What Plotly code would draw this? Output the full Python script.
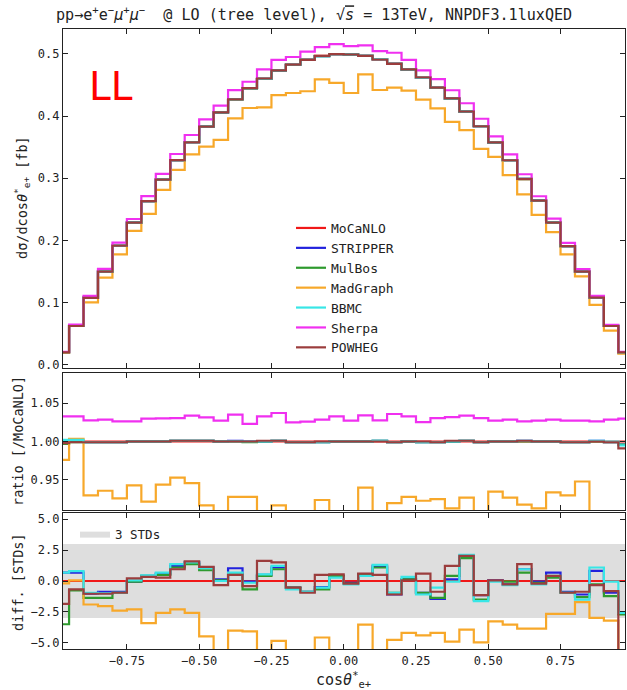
import numpy as np
import plotly.graph_objects as go

# ---------------- data ----------------
BIN_EDGES = np.round(np.arange(-1.0, 1.0001, 0.05), 3)

GENERATORS = ["MoCaNLO", "STRIPPER", "MulBos", "MadGraph", "BBMC", "Sherpa", "POWHEG"]
COLORS = {
    "MoCaNLO": "#f01818",
    "STRIPPER": "#2222dd",
    "MulBos": "#2e9a2e",
    "MadGraph": "#f7a82a",
    "BBMC": "#38e6e6",
    "Sherpa": "#f030f0",
    "POWHEG": "#9b3d3d",
}

# dsigma/dcos (MoCaNLO reference), fb
MOCANLO = [0.0203, 0.0626, 0.108, 0.150, 0.1917, 0.2286, 0.2634, 0.298, 0.329, 0.3576,
           0.3828, 0.406, 0.427, 0.445, 0.460, 0.473, 0.483, 0.491, 0.4968, 0.4995,
           0.499, 0.4968, 0.491, 0.4845, 0.475, 0.462, 0.446, 0.428, 0.407, 0.384,
           0.3576, 0.329, 0.2987, 0.264, 0.2286, 0.191, 0.150, 0.108, 0.0626, 0.0203]

# ratios to MoCaNLO
RATIO_MOCANLO = [1.0] * 40
RATIO_STRIPPER = [1.001, 1.001, 0.999, 0.999, 0.999, 1.000, 1.000, 1.000, 1.001, 1.001,
                  1.001, 1.000, 1.001, 1.000, 1.000, 1.001, 0.999, 0.999, 0.999, 1.000,
                  1.000, 1.000, 1.001, 0.999, 1.000, 0.999, 0.999, 1.000, 1.001, 0.999,
                  1.000, 1.000, 1.001, 1.000, 1.000, 0.999, 0.999, 1.001, 0.999, 0.996]
RATIO_MULBOS = [0.997, 0.999, 0.999, 0.999, 0.999, 1.000, 1.000, 1.000, 1.001, 1.001,
                1.001, 1.000, 1.000, 0.999, 1.000, 1.001, 0.999, 0.999, 0.999, 1.000,
                1.000, 1.000, 1.001, 0.999, 1.000, 0.999, 0.999, 1.000, 1.001, 0.999,
                1.000, 1.000, 1.000, 1.000, 1.000, 0.999, 0.999, 1.000, 0.999, 0.996]
RATIO_MADGRAPH = [0.976, 1.0035, 0.930, 0.936, 0.926, 0.943, 0.922, 0.944, 0.953, 0.946,
                  0.917, 0.891, 0.928, 0.928, 0.900, 0.917, 0.905, 0.896, 0.924, 0.908,
                  0.876, 0.940, 0.900, 0.920, 0.928, 0.923, 0.925, 0.913, 0.927, 0.904,
                  0.935, 0.927, 0.918, 0.913, 0.934, 0.930, 0.948, 0.893, 0.880, 0.900]
RATIO_BBMC = [1.002, 1.002, 0.999, 0.999, 0.999, 1.000, 1.000, 1.000, 1.001, 1.001,
              1.001, 1.000, 1.000, 1.000, 1.000, 1.001, 0.999, 0.999, 0.999, 1.000,
              1.000, 1.000, 1.001, 0.999, 1.000, 0.999, 0.999, 1.000, 1.001, 0.999,
              1.000, 1.000, 1.001, 1.000, 1.000, 0.999, 0.999, 1.001, 1.000, 0.995]
RATIO_SHERPA = [1.0326, 1.0326, 1.0274, 1.0283, 1.0261, 1.0261, 1.0296, 1.0300, 1.0304, 1.0335,
                1.0313, 1.0270, 1.0348, 1.0230, 1.0326, 1.0370, 1.0248, 1.0257, 1.0283, 1.0326,
                1.0270, 1.0339, 1.0274, 1.0357, 1.0326, 1.0252, 1.0304, 1.0317, 1.0335, 1.0304,
                1.0270, 1.0283, 1.0261, 1.0270, 1.0283, 1.0270, 1.0270, 1.0261, 1.0283, 1.0296]
RATIO_POWHEG = [0.998, 0.999, 0.999, 0.999, 0.999, 1.000, 1.000, 1.000, 1.001, 1.001,
                1.001, 1.000, 1.000, 1.000, 1.001, 1.001, 0.999, 0.999, 1.000, 1.000,
                1.000, 1.000, 1.000, 0.999, 1.000, 1.000, 0.999, 1.001, 1.001, 0.999,
                1.000, 1.000, 1.001, 1.000, 1.000, 0.999, 0.999, 1.000, 0.999, 0.991]

# differences in standard deviations
DIFF_MOCANLO = [0.0] * 40
DIFF_STRIPPER = [0.68, 0.68, -1.03, -0.87, -0.87, -0.05, 0.41, 0.60, 1.22, 1.50,
                 1.09, 0.14, 1.03, -0.05, 0.49, 1.09, -0.54, -0.87, -0.49, 0.41,
                 -0.14, 0.54, 1.22, -1.09, 0.14, -0.95, -1.44, 0.14, 1.96, -1.14,
                 0.05, -0.27, 0.95, -0.05, 0.68, -0.87, -1.09, 0.82, -0.95, -2.58]
DIFF_MULBOS = [-3.50, -0.76, -1.36, -1.36, -0.95, -0.05, 0.41, 0.49, 1.09, 1.36,
               0.87, 0.05, 0.54, -0.68, 0.41, 0.95, -0.54, -0.87, -0.68, 0.41,
               -0.22, 0.54, 1.09, -0.95, 0.14, -0.95, -1.36, 0.41, 1.85, -1.50,
               0.00, -0.05, 0.68, -0.14, 0.27, -0.95, -1.30, -0.27, -1.22, -2.70]
DIFF_MADGRAPH = [-0.20, 0.05, -1.90, -2.04, -2.40, -2.30, -3.40, -2.58, -2.30, -2.58,
                 -4.48, -7.00, -4.02, -4.08, -7.00, -4.84, -7.00, -7.00, -4.57, -7.00,
                 -7.00, -3.53, -7.00, -4.76, -4.20, -4.40, -4.20, -4.90, -3.94, -4.97,
                 -3.26, -3.53, -3.86, -3.86, -2.66, -2.66, -1.71, -2.99, -3.20, -6.00]
DIFF_BBMC = [0.68, 0.80, -0.95, -1.00, -0.95, 0.05, 0.46, 0.68, 1.36, 1.50,
             1.03, 0.00, 0.68, -0.14, 0.54, 1.22, -0.68, -0.87, -0.54, 0.27,
             -0.27, 0.41, 1.30, -0.95, 0.33, -1.09, -0.54, -0.05, 2.12, -1.63,
             -0.05, -0.33, 0.95, -0.27, 0.41, -0.95, -1.50, 1.09, -0.05, -2.58]
DIFF_POWHEG = [-1.85, -0.68, -1.03, -1.03, -0.95, 0.22, 0.33, 0.27, 0.95, 1.58,
               1.14, -0.33, 0.49, -0.41, 1.63, 1.50, -0.54, -0.95, 0.49, 0.54,
               -0.22, 0.60, 0.49, -1.09, 0.05, 0.60, -0.87, 1.22, 2.04, -1.14,
               0.05, -0.27, 1.36, -0.22, 0.41, -0.95, -0.87, -0.33, -0.82, -7.00]

RATIOS = {"MoCaNLO": RATIO_MOCANLO, "STRIPPER": RATIO_STRIPPER, "MulBos": RATIO_MULBOS,
          "MadGraph": RATIO_MADGRAPH, "BBMC": RATIO_BBMC, "Sherpa": RATIO_SHERPA,
          "POWHEG": RATIO_POWHEG}
DIFFS = {"MoCaNLO": DIFF_MOCANLO, "STRIPPER": DIFF_STRIPPER, "MulBos": DIFF_MULBOS,
         "MadGraph": DIFF_MADGRAPH, "BBMC": DIFF_BBMC, "POWHEG": DIFF_POWHEG}

STD_BAND = 3.0
X_TICKS = [-0.75, -0.5, -0.25, 0.0, 0.25, 0.5, 0.75]

# ---------------- figure ----------------
W, H = 627, 690
ML, MR, MT, MB = 63, 2, 29, 41
PW, PH = W - ML - MR, H - MT - MB

def py(pix):  # pixel y (from top) -> paper y
    return (H - MB - pix) / PH

def px(pix):
    return (pix - ML) / PW

MONO = "DejaVu Sans Mono"
TXT = "#222222"

def step(vals):
    x = list(BIN_EDGES)
    y = list(vals) + [vals[-1]]
    return x, y

fig = go.Figure()

# band in diff panel
fig.add_trace(go.Scatter(
    x=[-1.2, 1.2, 1.2, -1.2, -1.2], y=[-STD_BAND, -STD_BAND, STD_BAND, STD_BAND, -STD_BAND],
    fill="toself", fillcolor="#dedede", line=dict(width=0, color="#dedede"),
    mode="lines", name="3 STDs", legend="legend2", showlegend=True,
    xaxis="x3", yaxis="y3", hoverinfo="skip"))

mc = np.array(MOCANLO)
for g in GENERATORS:
    vals = (mc * np.array(RATIOS[g])).tolist()
    x, y = step(vals)
    fig.add_trace(go.Scatter(x=x, y=y, mode="lines", line_shape="hv", name=g,
                             line=dict(color=COLORS[g], width=2.2),
                             xaxis="x", yaxis="y", legend="legend"))
for g in GENERATORS:
    x, y = step(RATIOS[g])
    fig.add_trace(go.Scatter(x=x, y=y, mode="lines", line_shape="hv", name=g,
                             line=dict(color=COLORS[g], width=2.2), showlegend=False,
                             xaxis="x2", yaxis="y2"))
for g in GENERATORS:
    if g not in DIFFS:
        continue
    x, y = step(DIFFS[g])
    fig.add_trace(go.Scatter(x=x, y=y, mode="lines", line_shape="hv", name=g,
                             line=dict(color=COLORS[g], width=2.2), showlegend=False,
                             xaxis="x3", yaxis="y3"))

XR = [-0.971, 0.973]
axcommon = dict(showline=True, linecolor=TXT, linewidth=1.3, mirror="ticks",
                ticks="inside", ticklen=5, tickwidth=1, tickcolor=TXT,
                showgrid=False, zeroline=False,
                tickfont=dict(family=MONO, size=12, color=TXT))

fig.update_layout(
    width=W, height=H,
    margin=dict(l=ML, r=MR, t=MT, b=MB),
    paper_bgcolor="white", plot_bgcolor="white",
    font=dict(family=MONO, size=12, color=TXT),
    xaxis=dict(axcommon, range=XR, anchor="y", tickvals=X_TICKS, showticklabels=False),
    xaxis2=dict(axcommon, range=XR, anchor="y2", tickvals=X_TICKS, showticklabels=False),
    xaxis3=dict(axcommon, range=XR, anchor="y3", tickvals=X_TICKS, tickformat=".2f"),
    yaxis=dict(axcommon, range=[-0.005, 0.54], domain=[py(368), 1.0], anchor="x",
               tickvals=[0, 0.1, 0.2, 0.3, 0.4, 0.5], tickformat=".1f"),
    yaxis2=dict(axcommon, range=[0.911, 1.089], domain=[py(510), py(373)], anchor="x2",
                tickvals=[0.95, 1.0, 1.05], tickformat=".2f"),
    yaxis3=dict(axcommon, range=[-5.5, 5.5], domain=[0.0, py(513)], anchor="x3",
                tickvals=[-5, -2.5, 0, 2.5, 5], tickformat=".1f"),
    legend=dict(x=px(291), y=py(213), xanchor="left", yanchor="top",
                bgcolor="rgba(255,255,255,0)", font=dict(family=MONO, size=13, color=TXT),
                itemwidth=30, tracegroupgap=0),
    legend2=dict(x=px(75), y=py(519), xanchor="left", yanchor="top",
                 bgcolor="rgba(255,255,255,0)", font=dict(family=MONO, size=12.5, color=TXT),
                 itemwidth=30),
    showlegend=True,
)

ann = []
ann.append(dict(text="pp→e<sup>+</sup>e<sup>−</sup><i>μ</i><sup>+</sup><i>μ</i><sup>−</sup>\u00a0\u00a0@ LO (tree level), √<span style='text-decoration:overline'><i>s</i></span>\u00a0=\u00a013TeV, NNPDF3.1luxQED",
                x=px(314), y=py(14), xref="paper", yref="paper", xanchor="center", yanchor="middle",
                showarrow=False, font=dict(family=MONO, size=15.1, color=TXT)))
ann.append(dict(text="LL", x=px(87), y=py(86), xref="paper", yref="paper", xanchor="left",
                yanchor="middle", showarrow=False,
                font=dict(family="DejaVu Sans", size=39, color="#ff0000")))
ann.append(dict(text="dσ/dcos<i>θ</i><sup>*</sup><sub>e+</sub> [fb]", x=px(22), y=py(198),
                xref="paper", yref="paper", xanchor="center", yanchor="middle", textangle=-90,
                showarrow=False, font=dict(family=MONO, size=13.5, color=TXT)))
ann.append(dict(text="ratio [/MoCaNLO]", x=px(18), y=py(441),
                xref="paper", yref="paper", xanchor="center", yanchor="middle", textangle=-90,
                showarrow=False, font=dict(family=MONO, size=13.5, color=TXT)))
ann.append(dict(text="diff. [STDs]", x=px(18), y=py(582),
                xref="paper", yref="paper", xanchor="center", yanchor="middle", textangle=-90,
                showarrow=False, font=dict(family=MONO, size=13.5, color=TXT)))
ann.append(dict(text="cos<i>θ</i><sup>*</sup><sub>e+</sub>", x=px(343), y=py(679),
                xref="paper", yref="paper", xanchor="center", yanchor="middle",
                showarrow=False, font=dict(family=MONO, size=15, color=TXT)))
fig.update_layout(annotations=ann)

fig.write_html("out.html")
